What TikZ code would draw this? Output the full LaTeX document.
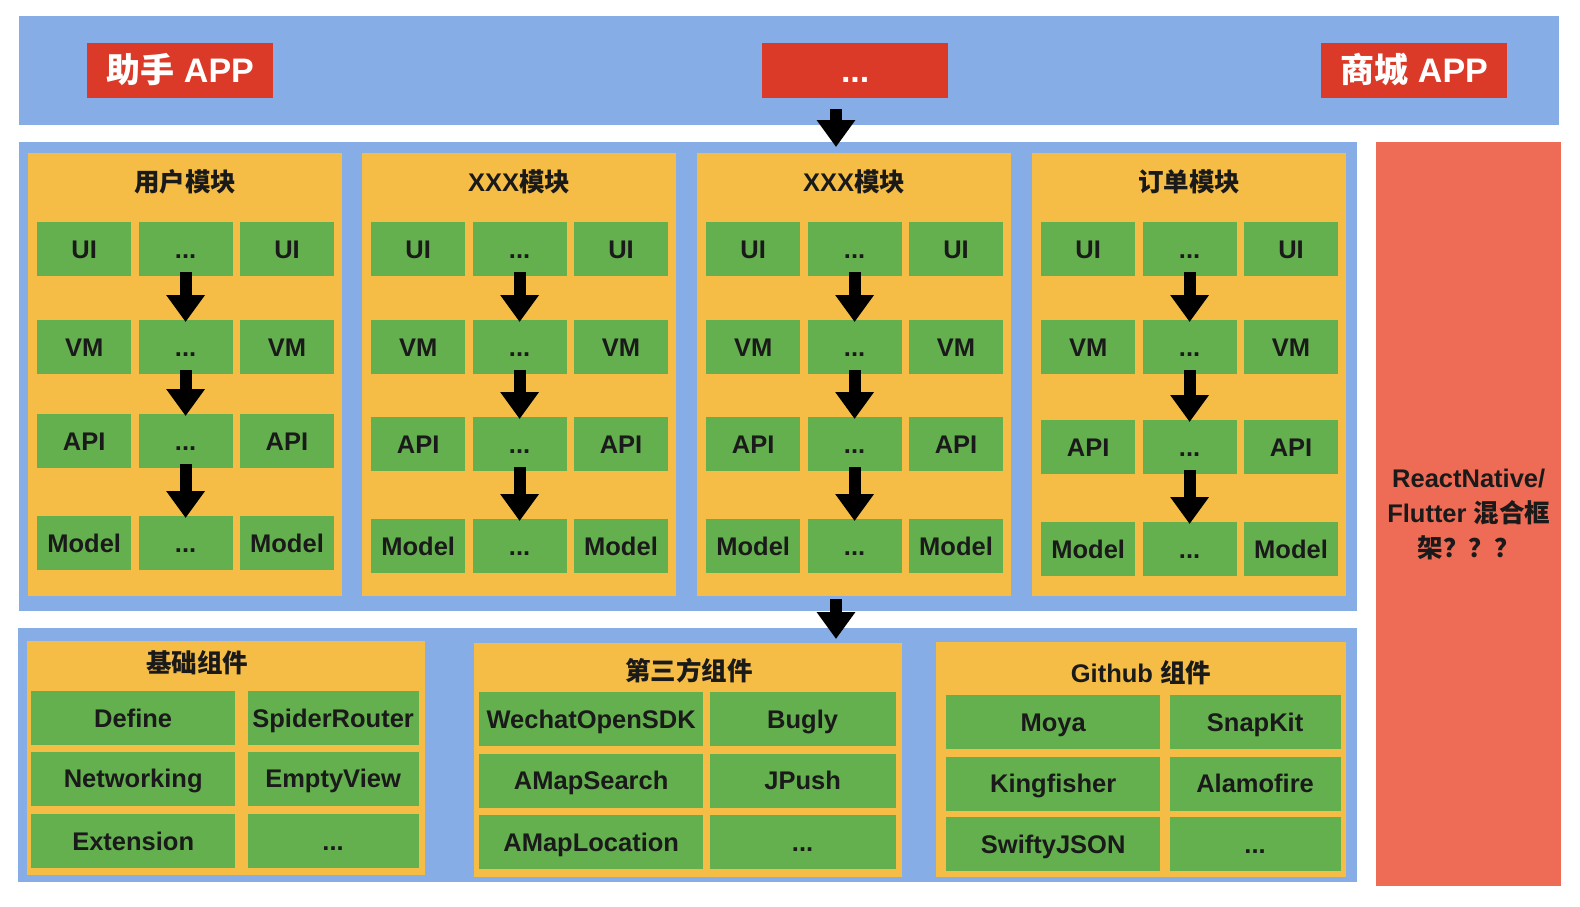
\documentclass[tikz,border=0pt]{standalone}
\usepackage{fontspec}
\setmainfont{Liberation Sans}
\newfontfamily\cjk{Noto Sans CJK SC}
\usepackage{xcolor}
\usepackage{tikz}
\usetikzlibrary{arrows.meta, positioning, calc}

\definecolor{bandblue}{RGB}{134,173,230}
\definecolor{appred}{RGB}{219,58,40}
\definecolor{modorange}{RGB}{245,189,69}
\definecolor{cellgreen}{RGB}{101,176,78}
\definecolor{sidered}{RGB}{238,108,85}
\definecolor{inkdark}{RGB}{26,26,26}

\begin{document}
\begin{tikzpicture}[
    x=1pt, y=-1pt,
    every node/.style={font=\bfseries\fontsize{25.5}{30}\selectfont, text=inkdark},
    band/.style={rectangle, fill=bandblue, anchor=north west, inner sep=0pt},
    appbox/.style={rectangle, fill=appred, anchor=north west, inner sep=0pt, minimum width=186pt, minimum height=55pt, text=white, font=\bfseries\fontsize{34}{40}\selectfont, text height=24.5pt, text depth=0pt},
    module/.style={rectangle, fill=modorange, anchor=north west, inner sep=0pt, minimum width=314pt, minimum height=443pt},
    group/.style={rectangle, fill=modorange, anchor=north west, inner sep=0pt},
    cell/.style={rectangle, fill=cellgreen, anchor=north west, inner sep=0pt, minimum width=94pt, minimum height=54pt, text height=18.4pt, text depth=0pt},
    sidebox/.style={rectangle, fill=sidered, anchor=north west, inner sep=0pt, minimum width=185pt, minimum height=744pt, align=center, font=\bfseries\fontsize{25.5}{35}\selectfont},
    blockarrow/.style={-{Triangle[width=37pt, length=27pt]}, line width=12pt, draw=black}
]
\useasboundingbox (0,0) rectangle (1580,906);

% Apps on top
\node[band, minimum width=1540pt, minimum height=109pt] (appbar) at (19,16) {};
\node[appbox] (helperapp) at (87,43) {{\cjk 助手} APP};
\node[appbox] (moreapp) at (762,43) {...};
\node[appbox] (shopapp) at (1321,43) {{\cjk 商城} APP};

% Business modules
\node[band, minimum width=1338pt, minimum height=469pt] (modbar) at (19,142) {};
\foreach \m/\mx/\yapi/\ymod/\mname in {1/28/414/516/{\cjk 用户模块}, 2/362/417/519/{XXX\cjk 模块}, 3/697/417/519/{XXX\cjk 模块}, 4/1032/420/522/{\cjk 订单模块}} {
    \node[module] (mod\m) at (\mx,153) {};
    \node (mod\m title) at ($(mod\m.north)+(0,29)$) {\mname};
    \foreach \r/\ry/\lab in {1/222/UI, 2/320/VM, 3/\yapi/API, 4/\ymod/Model} {
        \node[cell] (m\m-\r-a) at (\mx+9,\ry) {\lab};
        \node[cell, right=7pt of m\m-\r-a] (m\m-\r-b) {...};
        \node[cell, right=7pt of m\m-\r-b] (m\m-\r-c) {\lab};
    }
    \foreach \r/\s in {1/2, 2/3, 3/4}
        \draw[blockarrow, shorten <=-4pt, shorten >=-2pt] (m\m-\r-b.south) -- (m\m-\s-b.north);
}

% Hybrid framework column
\node[sidebox] (hybrid) at (1376,142) {ReactNative/\\Flutter {\cjk 混合框}\\{\cjk 架？？？}};

% Components
\node[band, minimum width=1339pt, minimum height=254pt] (libbar) at (18,628) {};

% base components
\node[group, minimum width=398pt, minimum height=234pt] (basegrp) at (27,641) {};
\node (basetitle) at (197,663) {\cjk 基础组件};
\node[cell, minimum width=204pt] (define) at (31,691) {Define};
\node[cell, minimum width=204pt, below=6pt of define] (networking) {Networking};
\node[cell, minimum width=204pt, below=8pt of networking] (extension) {Extension};
\node[cell, minimum width=171pt, right=12pt of define] (spiderrouter) {SpiderRouter};
\node[cell, minimum width=171pt, right=12pt of networking] (emptyview) {EmptyView};
\node[cell, minimum width=171pt, right=12pt of extension] (basemore) {...};

% third party components
\node[group, minimum width=428pt, minimum height=234pt] (thirdgrp) at (474,643) {};
\node (thirdtitle) at (689,671) {\cjk 第三方组件};
\node[cell, minimum width=224pt] (wechat) at (479,692) {WechatOpenSDK};
\node[cell, minimum width=224pt, below=7pt of wechat] (amapsearch) {AMapSearch};
\node[cell, minimum width=224pt, below=7pt of amapsearch] (amaplocation) {AMapLocation};
\node[cell, minimum width=186pt, right=6pt of wechat] (bugly) {Bugly};
\node[cell, minimum width=186pt, right=6pt of amapsearch] (jpush) {JPush};
\node[cell, minimum width=186pt, right=6pt of amaplocation] (thirdmore) {...};

% github components
\node[group, minimum width=410pt, minimum height=235pt] (githubgrp) at (936,642) {};
\node (githubtitle) at (1141,673) {Github {\cjk 组件}};
\node[cell, minimum width=214pt] (moya) at (946,695) {Moya};
\node[cell, minimum width=214pt, below=7pt of moya] (kingfisher) {Kingfisher};
\node[cell, minimum width=214pt, below=6pt of kingfisher] (swiftyjson) {SwiftyJSON};
\node[cell, minimum width=171pt, right=9pt of moya] (snapkit) {SnapKit};
\node[cell, minimum width=171pt, right=9pt of kingfisher] (alamofire) {Alamofire};
\node[cell, minimum width=171pt, right=9pt of swiftyjson] (githubmore) {...};

% Arrows between layers
\coordinate (apparrowtop) at (836,109);
\coordinate (apparrowtip) at (836,147);
\coordinate (libarrowtop) at (836,599);
\coordinate (libarrowtip) at (836,639);
\draw[blockarrow] (apparrowtop) -- (apparrowtip);
\draw[blockarrow] (libarrowtop) -- (libarrowtip);

\end{tikzpicture}
\end{document}
